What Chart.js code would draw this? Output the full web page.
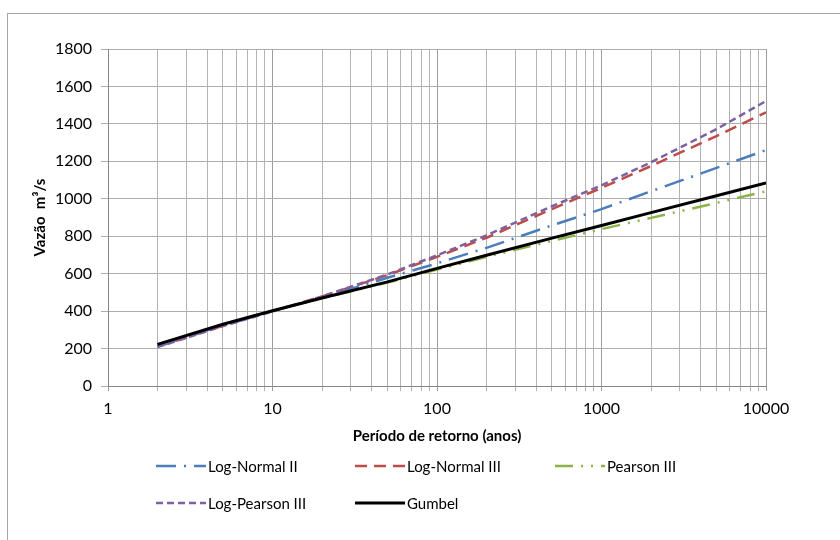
<!DOCTYPE html>
<html lang="pt">
<head>
<meta charset="utf-8">
<title>Vazão x Período de retorno</title>
<script src="https://cdn.jsdelivr.net/npm/chart.js@4.4.1/dist/chart.umd.min.js"></script>
<style>
  html, body { margin: 0; padding: 0; background: #ffffff; }
  body { width: 840px; height: 540px; position: relative; overflow: hidden; font-family: Lato, "Open Sans", sans-serif; }
  #frame { position: absolute; left: 7px; top: 13px; width: 900px; height: 600px; border-left: 1px solid #a6a6a6; border-top: 1px solid #a6a6a6; box-sizing: border-box; }
  #wrap { position: absolute; left: 0; top: 0; width: 840px; height: 540px; }
  .leg { position: absolute; display: flex; align-items: center; height: 16px; font-size: 15px; color: #000; white-space: nowrap; }
  .leg svg { display: block; margin-right: 2px; }
</style>
</head>
<body>
<div id="frame"></div>
<div id="wrap"><canvas id="chart" width="840" height="540"></canvas></div>
<div id="legend"></div>
<script>
// Return periods (years)
const periods = [2, 5, 10, 20, 50, 100, 200, 500, 1000, 2000, 5000, 10000];

// Discharge (m³/s) for each distribution
const logNormal2   = [212, 325, 400, 472, 578, 655, 738, 858, 945, 1040, 1165, 1260];
const logNormal3   = [210, 322, 400, 478, 592, 690, 792, 945, 1058, 1175, 1335, 1462];
const pearson3     = [220, 330, 402, 468, 552, 622, 690, 775, 838, 898, 978, 1040];
const logPearson3  = [208, 320, 398, 478, 596, 698, 805, 960, 1072, 1195, 1372, 1522];
const gumbel       = [222, 330, 402, 470, 556, 628, 698, 790, 857, 926, 1016, 1084];

const seriesNames = ['Log-Normal II', 'Log-Normal III', 'Pearson III', 'Log-Pearson III', 'Gumbel'];

// Axis ticks
const xDecades = [1, 10, 100, 1000, 10000];
const xTickLabels = ['1', '10', '100', '1000', '10000'];
const yMin = 0, yMax = 1800, yStep = 200;

const xTitle = 'Período de retorno (anos)';
const yTitle = 'Vazão  m³/s';

const styles = [
  { color: '#4A7EBB', dash: [20, 8, 2, 8],       width: 2.5 },
  { color: '#BE4B48', dash: [12, 7],             width: 2.5 },
  { color: '#8DB247', dash: [18, 8, 2, 8, 2, 8], width: 2.5 },
  { color: '#7D60A0', dash: [7, 4],              width: 2.5 },
  { color: '#000000', dash: [],                  width: 3   }
];
const drawOrder = [2, 3, 4, 1, 0]; // Gumbel on top

const seriesValues = [logNormal2, logNormal3, pearson3, logPearson3, gumbel];

const datasets = seriesValues.map((vals, i) => ({
  label: seriesNames[i],
  data: periods.map((t, k) => ({ x: t, y: vals[k] })),
  borderColor: styles[i].color,
  backgroundColor: styles[i].color,
  borderWidth: styles[i].width,
  borderDash: styles[i].dash,
  borderCapStyle: 'butt',
  pointRadius: 0,
  tension: 0,
  fill: false,
  order: drawOrder[i]
}));

// minor log ticks 1..9 per decade
const xAllTicks = [];
for (let d = 0; d < xDecades.length - 1; d++) {
  for (let m = 1; m < 10; m++) xAllTicks.push(xDecades[d] * m);
}
xAllTicks.push(xDecades[xDecades.length - 1]);

const fontFamily = 'Lato, "Open Sans", sans-serif';

new Chart(document.getElementById('chart'), {
  type: 'line',
  data: { datasets },
  options: {
    responsive: false,
    animation: false,
    events: [],
    layout: { padding: { left: 0, top: 49, right: 74, bottom: 92 } },
    plugins: { legend: { display: false }, tooltip: { enabled: false } },
    scales: {
      x: {
        type: 'logarithmic',
        min: 1,
        max: 10000,
        afterBuildTicks: (scale) => { scale.ticks = xAllTicks.map(v => ({ value: v })); },
        afterFit: (scale) => { scale.height = 62; },
        ticks: {
          autoSkip: false,
          maxRotation: 0,
          padding: 8,
          color: '#000',
          font: { family: fontFamily, size: 16 },
          callback: (value) => {
            const idx = xDecades.indexOf(value);
            return idx >= 0 ? xTickLabels[idx] : '';
          }
        },
        grid: {
          color: (ctx) => (xDecades.includes(ctx.tick && ctx.tick.value) ? '#9c9c9c' : '#b4b4b4'),
          lineWidth: 1,
          tickLength: 5,
          drawTicks: true
        },
        border: { color: '#868686', width: 1 },
        title: {
          display: true,
          text: xTitle,
          color: '#000',
          font: { family: fontFamily, size: 15, weight: 'bold' },
          padding: { top: 0, bottom: 3 }
        }
      },
      y: {
        type: 'linear',
        min: yMin,
        max: yMax,
        afterFit: (scale) => { scale.width = 108; },
        ticks: {
          stepSize: yStep,
          padding: 9,
          color: '#000',
          font: { family: fontFamily, size: 16 },
          callback: (value) => String(value)
        },
        grid: { color: '#adadad', lineWidth: 1, tickLength: 7 },
        border: { color: '#868686', width: 1 },
        title: {
          display: true,
          text: yTitle,
          color: '#000',
          font: { family: fontFamily, size: 15, weight: 'bold' },
          padding: { top: 31, bottom: 0 }
        }
      }
    }
  }
});

// Legend below the plot: two rows, fixed columns
const legendSlots = [
  { left: 156, top: 458 }, { left: 355, top: 458 }, { left: 555, top: 458 },
  { left: 156, top: 495 }, { left: 355, top: 495 }
];
const legend = document.getElementById('legend');
seriesNames.forEach((name, i) => {
  const item = document.createElement('div');
  item.className = 'leg';
  item.style.left = legendSlots[i].left + 'px';
  item.style.top = legendSlots[i].top + 'px';
  const s = styles[i];
  const ns = 'http://www.w3.org/2000/svg';
  const svg = document.createElementNS(ns, 'svg');
  svg.setAttribute('width', '50');
  svg.setAttribute('height', '8');
  const ln = document.createElementNS(ns, 'line');
  ln.setAttribute('x1', '0'); ln.setAttribute('y1', '4');
  ln.setAttribute('x2', '50'); ln.setAttribute('y2', '4');
  ln.setAttribute('stroke', s.color);
  ln.setAttribute('stroke-width', s.width);
  if (s.dash.length) ln.setAttribute('stroke-dasharray', s.dash.join(','));
  svg.appendChild(ln);
  const txt = document.createElement('span');
  txt.textContent = name;
  item.appendChild(svg);
  item.appendChild(txt);
  legend.appendChild(item);
});
</script>
</body>
</html>
